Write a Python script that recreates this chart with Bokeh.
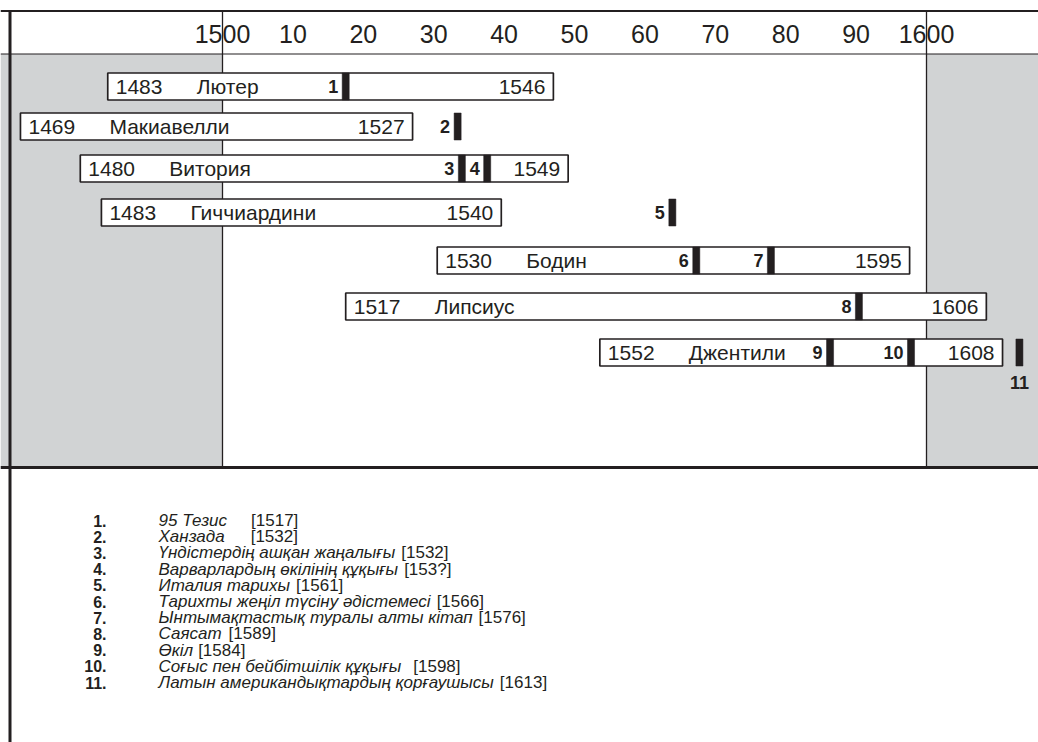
import glob
import os
from bokeh.plotting import figure
from bokeh.models import Range1d
from bokeh.core.properties import value
from bokeh.embed import file_html
from bokeh.resources import INLINE

# ---------------- data ----------------
names = ["Лютер", "Макиавелли", "Витория", "Гиччиардини", "Бодин", "Липсиус", "Джентили"]
born = [1483, 1469, 1480, 1483, 1530, 1517, 1552]
died = [1546, 1527, 1549, 1540, 1595, 1606, 1608]
# life bars as drawn in the picture (years)
bar_from = [1483.7, 1471.3, 1479.8, 1482.8, 1530.5, 1517.5, 1553.6]
bar_to = [1547.0, 1527.0, 1549.1, 1539.6, 1597.6, 1608.5, 1610.8]

work_no = ["1", "2", "3", "4", "5", "6", "7", "8", "9", "10", "11"]
work_person = [0, 1, 2, 2, 3, 4, 4, 5, 6, 6, 6]
work_pos = [1517.5, 1533.4, 1534.0, 1537.6, 1563.9, 1567.3, 1577.9, 1590.4, 1586.3, 1597.8, 1613.2]
work_titles = [
    "95 Тезис",
    "Ханзада",
    "Үндістердің ашқан жаңалығы",
    "Варварлардың өкілінің құқығы",
    "Италия тарихы",
    "Тарихты жеңіл түсіну әдістемесі",
    "Ынтымақтастық туралы алты кітап",
    "Саясат",
    "Өкіл",
    "Соғыс пен бейбітшілік құқығы",
    "Латын американдықтардың қорғаушысы",
]
work_years = ["[1517]", "[1532]", "[1532]", "[153?]", "[1561]", "[1566]",
              "[1576]", "[1589]", "[1584]", "[1598]", "[1613]"]

tick_years = [1500, 1510, 1520, 1530, 1540, 1550, 1560, 1570, 1580, 1590, 1600]
tick_labels = ["1500", "10", "20", "30", "40", "50", "60", "70", "80", "90", "1600"]
era_start, era_end = 1500, 1600

# ---------------- layout ----------------
W, H = 1038, 742
PX_PER_YEAR = 7.04
X0 = era_start - 222 / PX_PER_YEAR
X1 = X0 + W / PX_PER_YEAR


def px2yr(px):
    return X0 + px / PX_PER_YEAR


row_y = [86, 126, 168, 212, 260, 306, 352]
BAR_H = 27
TOP, HEAD_B, PLOT_B = 10.5, 53.5, 467

INK = "#231f20"
GREY = "#d1d3d4"
FONT = "Liberation Sans"


def find_font(fname):
    for base in ["/usr/share/fonts", "/usr/local/share/fonts", os.path.expanduser("~/.fonts")]:
        r = glob.glob(os.path.join(base, "**", fname), recursive=True)
        if r:
            return r[0]
    return None


LEG_SIZE = 17
try:
    from PIL import ImageFont
    fi = find_font("LiberationSans-Italic.ttf")
    f_it = ImageFont.truetype(fi, LEG_SIZE) if fi else None
except Exception:
    f_it = None


def text_w(s):
    if f_it is not None:
        return f_it.getlength(s)
    return len(s) * LEG_SIZE * 0.5


p = figure(width=W, height=H, output_backend="svg", toolbar_location=None,
           x_range=Range1d(X0, X1), y_range=Range1d(H, 0),
           x_axis_location=None, y_axis_location=None, min_border=0)
p.outline_line_color = None
p.background_fill_color = "white"
p.border_fill_color = "white"
p.xgrid.visible = False
p.ygrid.visible = False

# grey zones outside 1500..1600
p.quad(left=[X0, era_end], right=[era_start, X1], top=[HEAD_B, HEAD_B],
       bottom=[PLOT_B, PLOT_B], fill_color=GREY, line_color=None)
# century lines
p.segment(x0=[era_start, era_end], x1=[era_start, era_end], y0=[TOP, TOP],
          y1=[PLOT_B, PLOT_B], line_color=INK, line_width=1.3)

# header tick labels
p.text(x=tick_years, y=[33] * len(tick_years), text=tick_labels,
       text_font=value(FONT), text_font_size="25px", text_color=INK,
       text_align="center", text_baseline="middle")

# life bars
tops = [y - BAR_H / 2 for y in row_y]
bots = [y + BAR_H / 2 for y in row_y]
p.quad(left=bar_from, right=bar_to, top=tops, bottom=bots,
       fill_color="white", line_color=INK, line_width=1.7)

# work markers
mk_top = [tops[i] for i in work_person]
mk_bot = [bots[i] for i in work_person]
p.quad(left=[w - 0.5 for w in work_pos], right=[w + 0.5 for w in work_pos],
       top=mk_top, bottom=mk_bot, fill_color=INK, line_color=INK, line_width=0.5)

# bar texts
p.text(x=bar_from, y=row_y, text=[str(b) for b in born], x_offset=8,
       text_font=value(FONT), text_font_size="21px", text_color=INK,
       text_align="left", text_baseline="middle")
p.text(x=bar_from, y=row_y, text=names, x_offset=89,
       text_font=value(FONT), text_font_size="21px", text_color=INK,
       text_align="left", text_baseline="middle")
p.text(x=bar_to, y=row_y, text=[str(d) for d in died], x_offset=-8,
       text_font=value(FONT), text_font_size="21px", text_color=INK,
       text_align="right", text_baseline="middle")

# marker numbers (all but the last sit left of their marker)
side_idx = list(range(len(work_no) - 1))
p.text(x=[work_pos[i] - 0.5 for i in side_idx], y=[row_y[work_person[i]] for i in side_idx],
       text=[work_no[i] for i in side_idx], x_offset=-4,
       text_font=value(FONT), text_font_size="18px", text_font_style="bold",
       text_color=INK, text_align="right", text_baseline="middle")
last = len(work_no) - 1
p.text(x=[work_pos[last]], y=[bots[work_person[last]]], text=[work_no[last]], y_offset=16,
       text_font=value(FONT), text_font_size="18px", text_font_style="bold",
       text_color=INK, text_align="center", text_baseline="middle")

# frame lines
p.segment(x0=[X0, X0, X0], x1=[X1, X1, X1], y0=[TOP, HEAD_B, PLOT_B],
          y1=[TOP, HEAD_B, PLOT_B], line_color=INK, line_width=[2, 1.2, 3])
p.segment(x0=[px2yr(9.5)], x1=[px2yr(9.5)], y0=[TOP - 1], y1=[H],
          line_color=INK, line_width=3)

# legend
leg_y = [520 + i * 16.2 for i in range(len(work_no))]
num_x = px2yr(106)
title_x = px2yr(158)
p.text(x=[num_x] * len(work_no), y=leg_y, text=[n + "." for n in work_no],
       text_font=value(FONT), text_font_size="16px", text_font_style="bold",
       text_color=INK, text_align="right", text_baseline="middle")
p.text(x=[title_x] * len(work_no), y=leg_y, text=work_titles,
       text_font=value(FONT), text_font_size=f"{LEG_SIZE}px", text_font_style="italic",
       text_color=INK, text_align="left", text_baseline="middle")
gaps = [24, 26, 6, 6, 6, 6, 6, 7, 5, 12, 6]
yr_x = [title_x + (text_w(t) + g) / PX_PER_YEAR for t, g in zip(work_titles, gaps)]
p.text(x=yr_x, y=leg_y, text=work_years,
       text_font=value(FONT), text_font_size=f"{LEG_SIZE}px",
       text_color=INK, text_align="left", text_baseline="middle")

open("out.html", "w").write(file_html(p, INLINE))
